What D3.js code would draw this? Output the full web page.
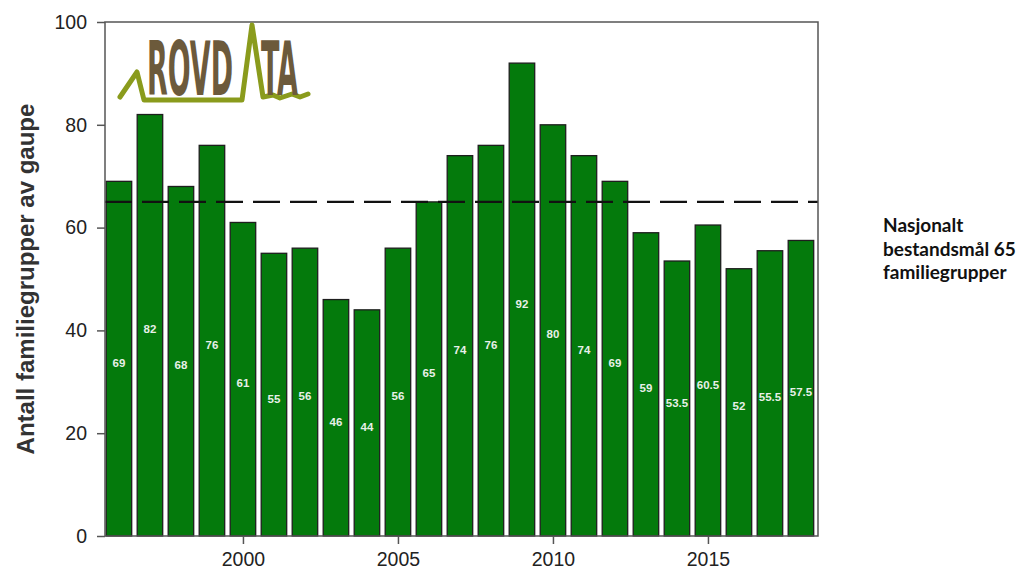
<!DOCTYPE html>
<html>
<head>
<meta charset="utf-8">
<script src="https://cdn.jsdelivr.net/npm/d3@7"></script>
<style>
    body { margin: 0; background: #fff; }
    svg { display: block; }
</style>
</head>
<body>
<div id="chart"></div>
<script>
// Lynx family groups (gaupe) per year, with national target line
var years = [1996, 1997, 1998, 1999, 2000, 2001, 2002, 2003, 2004, 2005, 2006, 2007,
             2008, 2009, 2010, 2011, 2012, 2013, 2014, 2015, 2016, 2017, 2018];
var counts = [69, 82, 68, 76, 61, 55, 56, 46, 44, 56, 65, 74,
              76, 92, 80, 74, 69, 59, 53.5, 60.5, 52, 55.5, 57.5];
var yTicks = [0, 20, 40, 60, 80, 100];
var xTicks = [2000, 2005, 2010, 2015];
var target = 65;
var targetLines = ["Nasjonalt", "bestandsmål 65", "familiegrupper"];

var chart = (function(){

    var width = 1023, height = 574;
    var plotLeft = 105, plotRight = 818, plotTop = 22, plotBottom = 536;

    var svg = d3.select("#chart").append("svg")
        .attr("width", width)
        .attr("height", height);

    var x = d3.scaleLinear().domain([1995.55, 2018.55]).range([plotLeft, plotRight]);
    var y = d3.scaleLinear().domain([0, 100]).range([plotBottom, plotTop]);
    var step = x(1) - x(0);
    var barW = step - 5.5;

    // bars
    svg.append("g").selectAll("rect")
        .data(years)
        .enter().append("rect")
        .attr("x", function(d) { return x(d) - barW / 2; })
        .attr("y", function(d, i) { return y(counts[i]); })
        .attr("width", barW)
        .attr("height", function(d, i) { return plotBottom - y(counts[i]); })
        .attr("fill", "#047a0c")
        .attr("stroke", "#1e1e1e")
        .attr("stroke-width", 1.3);

    // value labels, roughly mid-bar
    svg.append("g").selectAll("text")
        .data(years)
        .enter().append("text")
        .attr("x", function(d) { return x(d); })
        .attr("y", function(d, i) { return (y(counts[i]) + plotBottom) / 2 + 5; })
        .attr("text-anchor", "middle")
        .attr("dominant-baseline", "middle")
        .attr("font-family", "Liberation Sans, Arial, sans-serif")
        .attr("font-weight", "bold")
        .attr("font-size", 11.5)
        .attr("fill", "#e8f0e8")
        .text(function(d, i) { return counts[i]; });

    // target dashed line
    svg.append("line")
        .attr("x1", plotLeft).attr("x2", plotRight)
        .attr("y1", y(target)).attr("y2", y(target))
        .attr("stroke", "#111")
        .attr("stroke-width", 2.2)
        .attr("stroke-dasharray", "27,10");

    // frame
    svg.append("rect")
        .attr("x", plotLeft).attr("y", plotTop)
        .attr("width", plotRight - plotLeft).attr("height", plotBottom - plotTop)
        .attr("fill", "none")
        .attr("stroke", "#555")
        .attr("stroke-width", 1.5);

    // y axis
    var yAxis = d3.axisLeft(y).tickValues(yTicks).tickSize(8).tickPadding(10);
    var gy = svg.append("g")
        .attr("transform", "translate(" + plotLeft + ",0)")
        .call(yAxis);
    gy.select(".domain").remove();
    gy.selectAll("line").attr("stroke", "#555").attr("stroke-width", 1.5);
    gy.selectAll("text")
        .attr("font-family", "Liberation Sans, Arial, sans-serif")
        .attr("font-size", 19.5)
        .attr("fill", "#222");

    // x axis
    var xAxis = d3.axisBottom(x).tickValues(xTicks).tickSize(8).tickPadding(8)
        .tickFormat(d3.format("d"));
    var gx = svg.append("g")
        .attr("transform", "translate(0," + plotBottom + ")")
        .call(xAxis);
    gx.select(".domain").remove();
    gx.selectAll("line").attr("stroke", "#555").attr("stroke-width", 1.5);
    gx.selectAll("text")
        .attr("font-family", "Liberation Sans, Arial, sans-serif")
        .attr("font-size", 19.5)
        .attr("fill", "#222");

    // y axis title
    svg.append("text")
        .attr("transform", "translate(34,279) rotate(-90)")
        .attr("text-anchor", "middle")
        .attr("font-family", "Liberation Sans, Arial, sans-serif")
        .attr("font-weight", "bold")
        .attr("font-size", 24)
        .attr("fill", "#333")
        .text("Antall familiegrupper av gaupe");

    // target annotation
    svg.append("g").selectAll("text")
        .data(targetLines)
        .enter().append("text")
        .attr("x", 883)
        .attr("y", function(d, i) { return 232 + i * 23.5; })
        .attr("font-family", "Lato, Open Sans, sans-serif")
        .attr("font-weight", "bold")
        .attr("font-size", 19)
        .attr("fill", "#111")
        .text(function(d) { return d; });

    // ROVDATA logo
    var logo = svg.append("g");
    logo.append("path")
        .attr("d", "M120,97 L137,72 L144,100 L242,100 L252,25 L263,97 L273,95 L280,98 L292,94 L300,97 L308,94")
        .attr("fill", "none")
        .attr("stroke", "#8a9b1c")
        .attr("stroke-width", 5)
        .attr("stroke-linejoin", "round")
        .attr("stroke-linecap", "round");
    logo.append("text")
        .attr("x", 147).attr("y", 95)
        .attr("textLength", 86)
        .attr("lengthAdjust", "spacingAndGlyphs")
        .attr("font-family", "DejaVu Sans Condensed, sans-serif")
        .attr("font-weight", "bold")
        .attr("font-size", 74)
        .attr("fill", "#6c5a3b")
        .text("ROVD");
    logo.append("text")
        .attr("x", 261).attr("y", 95)
        .attr("textLength", 37)
        .attr("lengthAdjust", "spacingAndGlyphs")
        .attr("font-family", "DejaVu Sans Condensed, sans-serif")
        .attr("font-weight", "bold")
        .attr("font-size", 74)
        .attr("fill", "#6c5a3b")
        .text("TA");

    return { svg: svg, x: x, y: y };
})();
</script>
</body>
</html>
